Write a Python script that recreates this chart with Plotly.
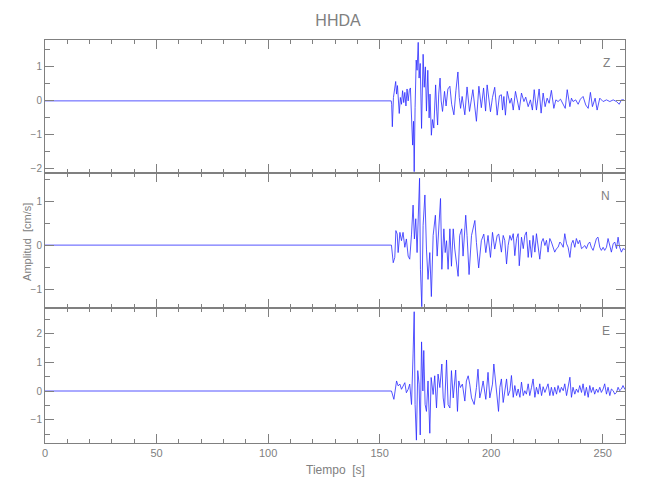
import plotly.graph_objects as go

# Seismogram traces: (time [s], amplitude [cm/s])
Z_TRACE = [(0, 0), (155.2, 0), (155.4, -0.1), (155.7, -0.76), (156.2, 0.1), (156.8, 0.45), (157.2, 0.57),
           (157.6, 0.2), (158.0, 0.45), (158.8, -0.37), (159.3, 0.1), (159.8, -0.1), (160.3, 0.3),
           (160.8, -0.05), (161.3, 0.25), (161.8, -0.15), (162.3, 0.35), (162.8, 0.0), (163.3, 0.3),
           (163.8, 0.38), (164.3, -0.3), (164.8, -1.3), (165.2, -0.6), (165.5, -2.08), (165.9, -0.2),
           (166.4, 1.2), (166.8, 0.9), (167.3, 1.72), (167.7, 0.67), (168.2, 1.1), (168.8, -0.81),
           (169.5, 1.37), (170.0, 0.4), (170.5, 1.0), (171.0, -0.3), (171.6, 0.9), (172.2, -0.5),
           (172.6, 0.2), (173.2, -1.01), (173.7, -0.55), (174.3, -0.8), (175.1, 0.47), (175.6, -0.3),
           (176.0, -0.71), (176.5, 0.2), (177.1, 0.67), (177.6, 0.0), (178.2, -0.31), (179.1, 0.28),
           (179.8, -0.15), (180.6, 0.35), (181.5, 0.43), (182.3, -0.1), (183.3, -0.41), (184.2, 0.3),
           (185.1, 0.85), (185.7, 0.1), (186.3, -0.22), (187.0, 0.13), (188.2, -0.41), (189.2, 0.41),
           (190.3, -0.31), (191.8, 0.33), (193.4, -0.6), (194.5, 0.43), (195.6, -0.2), (196.6, 0.38),
           (197.5, -0.3), (198.2, 0.47), (199.7, -0.32), (200.6, 0.1), (201.6, 0.40), (202.7, -0.42),
           (203.7, 0.15), (204.6, 0.18), (205.1, -0.27), (205.7, 0.13), (206.4, -0.42), (207.2, 0.28),
           (208.4, -0.07), (209.1, 0.08), (209.9, -0.27), (210.9, 0.28), (211.7, 0.03), (212.6, -0.27),
           (213.6, 0.23), (214.7, -0.02), (215.5, 0.11), (216.6, -0.17), (217.6, 0.03), (218.5, -0.27),
           (219.3, 0.33), (220.3, -0.27), (221.5, 0.35), (222.4, -0.36), (223.3, 0.23), (224.2, -0.17),
           (225.1, 0.08), (226.0, -0.07), (227.0, 0.31), (228.1, -0.22), (229.0, 0.03), (230.0, -0.02),
           (231.1, 0.05), (232.3, -0.12), (233.2, -0.22), (234.1, 0.33), (235.3, -0.17), (236.0, 0.08),
           (236.7, -0.02), (237.9, 0.03), (239.0, -0.1), (240.0, 0.05), (241.2, 0.13), (242.4, -0.12),
           (243.5, -0.22), (244.5, 0.25), (245.4, -0.17), (246.6, 0.08), (247.5, -0.27), (248.7, 0.08),
           (250.2, -0.02), (251.7, 0.03), (253.2, -0.02), (254.7, 0.03), (256.2, -0.02), (257.4, -0.10),
           (258.4, 0.03), (259.4, 0.03), (260, 0.0)]

N_TRACE = [(0, 0), (155.3, 0), (156.1, -0.40), (156.8, -0.28), (157.3, 0.33), (157.9, 0.25), (158.3, -0.17),
           (159.1, 0.29), (159.8, 0.10), (160.5, 0.29), (161.3, -0.05), (162.0, 0.14), (162.8, -0.25),
           (163.5, -0.32), (164.3, 0.25), (165.0, 0.91), (165.6, 0.14), (166.2, 0.60), (166.8, -0.17),
           (167.3, 0.83), (167.9, 1.52), (168.3, -0.55), (168.9, -1.40), (169.5, 0.45), (170.3, 1.14),
           (171.0, -0.09), (171.7, -0.78), (172.5, -0.17), (173.2, -1.17), (174.0, 0.22), (175.0, 0.68),
           (175.8, -0.25), (176.5, 0.52), (177.3, 1.06), (177.9, -0.55), (178.8, 0.37), (179.4, -0.17),
           (180.0, 0.10), (180.7, -0.55), (181.5, 0.37), (182.2, -0.48), (183.0, 0.37), (183.7, -0.09),
           (185.2, -0.71), (185.9, 0.22), (186.8, 0.37), (187.4, -0.25), (188.6, 0.68), (189.2, 0.22),
           (190.1, -0.67), (191.2, 0.22), (192.7, 0.56), (193.4, 0.06), (194.4, -0.52), (195.6, 0.10),
           (196.7, 0.25), (197.6, -0.17), (198.6, 0.22), (199.7, -0.28), (200.6, 0.29), (201.6, -0.09),
           (202.7, 0.22), (203.4, 0.25), (204.6, -0.16), (205.4, 0.22), (206.1, 0.11), (206.9, -0.43),
           (207.6, -0.01), (208.4, 0.22), (209.1, 0.11), (209.9, 0.26), (210.6, -0.24), (211.4, 0.15),
           (212.1, 0.26), (212.6, -0.47), (213.6, 0.18), (214.4, -0.08), (215.1, 0.22), (215.8, 0.30),
           (216.6, -0.28), (217.3, 0.11), (218.1, -0.28), (218.8, 0.22), (219.6, -0.16), (220.3, 0.26),
           (221.1, -0.08), (221.8, -0.32), (222.6, 0.07), (223.3, 0.15), (224.1, -0.01), (224.8, 0.11),
           (225.5, -0.16), (226.3, 0.15), (227.0, 0.07), (227.8, -0.05), (228.5, -0.16), (229.3, -0.08),
           (230.0, -0.05), (230.8, 0.07), (231.5, 0.03), (232.3, -0.05), (233.0, 0.26), (233.8, 0.03),
           (234.5, -0.05), (235.3, -0.28), (236.0, 0.03), (236.7, 0.11), (237.5, -0.05), (238.2, 0.15),
           (239.0, 0.03), (239.7, 0.11), (240.5, -0.08), (241.2, -0.05), (242.0, -0.01), (242.7, -0.08),
           (243.5, 0.03), (244.2, 0.07), (244.9, -0.05), (245.7, -0.12), (246.4, 0.03), (247.2, 0.15),
           (247.9, 0.18), (248.7, -0.05), (249.4, -0.12), (250.2, -0.05), (250.9, -0.12), (251.7, -0.05),
           (252.4, 0.15), (253.2, -0.05), (253.9, -0.16), (254.7, 0.03), (255.4, 0.07), (256.2, -0.08),
           (256.9, 0.18), (257.6, -0.05), (258.4, -0.16), (259.1, -0.08), (260, -0.1)]

E_TRACE = [(0, 0), (155.3, 0), (156.4, -0.29), (156.8, -0.06), (157.6, 0.35), (158.3, 0.18), (159.1, 0.24),
           (159.8, 0.06), (160.5, 0.18), (161.3, 0.29), (162.0, -0.06), (162.8, 0.06), (163.5, 0.24),
           (164.3, -0.47), (165.0, 1.29), (165.5, 2.76), (165.9, -0.47), (166.5, -1.71), (167.1, 0.71),
           (167.7, 0.24), (168.2, -1.53), (168.8, 1.71), (169.4, 0.0), (169.8, 1.41), (170.4, -0.47),
           (171.0, -0.71), (171.7, 0.35), (172.5, -1.47), (173.1, 0.47), (174.0, -0.12), (174.7, 0.53),
           (175.5, -0.59), (176.2, 0.59), (177.0, 0.12), (177.9, 0.94), (178.5, -0.24), (179.1, -0.59),
           (180.0, 1.08), (180.7, -0.47), (181.5, -0.59), (182.2, 0.71), (183.0, -0.24), (184.1, 0.73),
           (184.9, -0.71), (185.5, 0.35), (186.2, 0.12), (187.1, 0.24), (188.2, -0.35), (188.9, 0.35),
           (189.7, 0.53), (190.4, 0.24), (191.2, -0.24), (192.4, -0.47), (193.4, 0.12), (194.1, 0.76),
           (194.9, -0.24), (195.6, 0.0), (196.4, 0.35), (197.6, -0.29), (198.6, 0.65), (199.4, -0.24),
           (200.6, 0.24), (201.2, 0.94), (202.4, 0.0), (203.3, -0.71), (203.9, 0.13), (204.6, 0.42),
           (205.4, -0.40), (206.1, 0.07), (206.9, 0.42), (207.6, -0.16), (208.4, 0.01), (209.1, 0.54),
           (209.9, -0.22), (210.6, 0.19), (211.4, -0.16), (212.1, 0.07), (212.9, -0.22), (213.6, 0.31),
           (214.4, -0.16), (215.1, 0.01), (215.8, -0.11), (216.6, 0.25), (217.3, -0.16), (218.1, 0.13),
           (218.8, 0.42), (219.6, -0.22), (220.3, 0.13), (221.1, -0.11), (221.8, 0.25), (222.6, -0.16),
           (223.3, 0.15), (224.1, -0.05), (224.8, 0.07), (225.5, 0.25), (226.3, -0.16), (227.0, 0.13),
           (227.8, -0.16), (228.5, 0.13), (229.3, -0.11), (230.0, 0.19), (230.8, -0.05), (231.5, 0.13),
           (232.3, 0.01), (233.0, 0.25), (233.8, -0.16), (234.5, 0.13), (235.3, 0.48), (236.0, -0.22),
           (236.7, 0.13), (237.5, -0.11), (238.2, 0.07), (239.0, -0.05), (239.7, 0.19), (240.5, -0.05),
           (241.2, 0.25), (242.0, -0.16), (242.7, 0.13), (243.5, -0.22), (244.2, 0.19), (244.9, -0.05),
           (245.7, 0.13), (246.4, -0.11), (247.2, 0.07), (247.9, -0.05), (248.7, 0.13), (249.4, -0.05),
           (250.2, 0.07), (250.9, 0.25), (251.7, -0.11), (252.4, 0.13), (253.2, -0.16), (253.9, 0.07),
           (254.7, 0.01), (255.4, -0.11), (256.2, -0.05), (256.9, 0.13), (257.6, 0.01), (258.4, 0.07),
           (259.1, 0.19), (260, 0.05)]

CHANNELS = ["Z", "N", "E"]
Y_RANGES = {"Z": [-2.12, 1.79], "N": [-1.43, 1.64], "E": [-1.81, 2.89]}
TITLE = "HHDA"
X_LABEL = "Tiempo  [s]"
Y_LABEL = "Amplitud  [cm/s]"

GRAY = "#808080"
LINE = "#2a2aff"
FONT = "Liberation Sans"

traces = {"Z": Z_TRACE, "N": N_TRACE, "E": E_TRACE}
domains = {"Z": [0.670, 1.0], "N": [0.335, 0.670], "E": [0.0, 0.335]}
axis_ids = {"Z": "", "N": "2", "E": "3"}

fig = go.Figure()
for ch in CHANNELS:
    t, a = zip(*traces[ch])
    k = axis_ids[ch]
    fig.add_trace(go.Scatter(x=list(t), y=list(a), mode="lines",
                             line=dict(color=LINE, width=0.8),
                             xaxis="x" + k, yaxis="y" + k, showlegend=False, hoverinfo="skip"))

# page body has an 8 px margin, so the figure is 642x492 and margins are shifted accordingly
layout = dict(
    width=642, height=492,
    margin=dict(l=37, r=25, t=32, b=57, autoexpand=False),
    paper_bgcolor="white", plot_bgcolor="white",
    font=dict(family=FONT, color=GRAY, size=10),
    title=dict(text=TITLE, x=(330.0 / 642), xanchor="center", y=(1 - 12.0 / 492), yanchor="middle",
               font=dict(family=FONT, size=16, color=GRAY)),
    showlegend=False,
)

for ch in CHANNELS:
    k = axis_ids[ch]
    xa = dict(range=[0, 260], anchor="y" + k, domain=[0, 1], automargin=False,
              showline=True, linecolor=GRAY, linewidth=1, mirror="ticks",
              ticks="inside", ticklen=9, tickcolor=GRAY, tickwidth=1,
              dtick=50, tick0=0, showgrid=False, zeroline=False,
              minor=dict(ticks="inside", ticklen=4, dtick=10, tickcolor=GRAY, showgrid=False),
              showticklabels=(ch == "E"), tickfont=dict(size=11, color=GRAY))
    if ch != "Z":
        xa["matches"] = "x"
    ya = dict(range=Y_RANGES[ch], anchor="x" + k, domain=domains[ch], automargin=False,
              showline=True, linecolor=GRAY, linewidth=1, mirror="ticks",
              ticks="inside", ticklen=9, tickcolor=GRAY, tickwidth=1,
              dtick=1, tick0=0, showgrid=False, zeroline=False,
              minor=dict(ticks="inside", ticklen=5, dtick=0.5, tickcolor=GRAY, showgrid=False),
              tickfont=dict(size=10, color=GRAY), ticklabelstandoff=0)
    layout["xaxis" + k] = xa
    layout["yaxis" + k] = ya

fig.update_layout(**layout)

label_y = {"Z": 0.965, "N": 0.613, "E": 0.255}
for ch in CHANNELS:
    fig.add_annotation(text=ch, xref="paper", yref="paper", x=0.977, y=label_y[ch],
                       showarrow=False, font=dict(size=12, color=GRAY, family=FONT))

fig.add_annotation(text=Y_LABEL, xref="paper", yref="paper", x=-0.032, y=0.5,
                   xanchor="center", yanchor="middle", textangle=-90, showarrow=False,
                   font=dict(size=11, color=GRAY, family=FONT))
fig.add_annotation(text=X_LABEL, xref="paper", yref="paper", x=0.5, y=-0.067,
                   xanchor="center", yanchor="middle", showarrow=False,
                   font=dict(size=12, color=GRAY, family=FONT))

fig.write_html("out.html")
